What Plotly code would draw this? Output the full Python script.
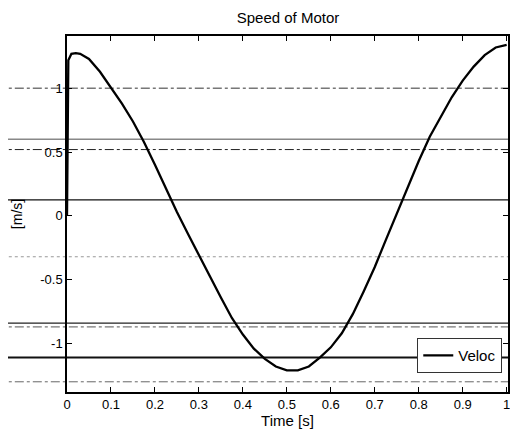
import plotly.graph_objects as go

# ---- data ----
time_s = [0, 0.003, 0.01, 0.02, 0.03, 0.05, 0.075, 0.10, 0.125, 0.15, 0.175, 0.20, 0.225,
          0.25, 0.275, 0.30, 0.325, 0.35, 0.375, 0.40, 0.425, 0.45, 0.475, 0.50, 0.525,
          0.55, 0.575, 0.60, 0.625, 0.65, 0.675, 0.70, 0.725, 0.75, 0.775, 0.80, 0.825,
          0.85, 0.875, 0.90, 0.925, 0.95, 0.975, 1.00]
veloc = [0, 1.22, 1.27, 1.275, 1.27, 1.23, 1.13, 1.01, 0.88, 0.74, 0.58, 0.40, 0.21,
         0.03, -0.14, -0.31, -0.48, -0.64, -0.80, -0.93, -1.04, -1.12, -1.18, -1.21, -1.21,
         -1.18, -1.11, -1.03, -0.92, -0.77, -0.59, -0.40, -0.19, 0.02, 0.23, 0.43, 0.62,
         0.78, 0.93, 1.06, 1.17, 1.26, 1.32, 1.34]
x_ticks = [0, 0.1, 0.2, 0.3, 0.4, 0.5, 0.6, 0.7, 0.8, 0.9, 1]
x_tick_labels = ["0", "0.1", "0.2", "0.3", "0.4", "0.5", "0.6", "0.7", "0.8", "0.9", "1"]
y_ticks = [-1, -0.5, 0, 0.5, 1]
y_tick_labels = ["-1", "-0.5", "0", "0.5", "1"]

# scan artefact lines (notebook paper) in y data units
paper_lines = [1.0, 0.60, 0.52, 0.125, -0.32, -0.84, -0.87, -1.11, -1.30]
paper_styles = [("#777", 1.5, "dashdot"), ("#888", 1.5, "solid"), ("#222", 1, "dashdot"),
                ("#111", 1.2, "solid"), ("#999", 1, "dot"), ("#222", 1.2, "solid"),
                ("#555", 1, "dashdot"), ("#111", 2, "solid"), ("#666", 1, "dashdot")]

font = "Liberation Sans, Arial, sans-serif"

fig = go.Figure()
fig.add_trace(go.Scatter(x=time_s, y=veloc, mode="lines", name="Veloc",
                         line=dict(color="black", width=2.3)))

shapes = []
for yv, (c, w, d) in zip(paper_lines, paper_styles):
    shapes.append(dict(type="line", xref="paper", yref="y", x0=-0.2, x1=1.05, y0=yv, y1=yv,
                       line=dict(color=c, width=w, dash=d), layer="below"))

fig.update_layout(
    width=510, height=431,
    margin=dict(l=57, r=8, t=28, b=47),
    paper_bgcolor="white", plot_bgcolor="rgba(0,0,0,0)",
    title=dict(text="Speed of Motor", x=0.549, xanchor="center", y=0.99, yanchor="top",
               pad=dict(t=0, b=0), font=dict(family=font, size=15, color="black")),
    font=dict(family=font, color="black"),
    shapes=shapes,
    showlegend=True,
    legend=dict(x=0.987, y=0.053, xanchor="right", yanchor="bottom",
                bgcolor="white", bordercolor="#333", borderwidth=1,
                font=dict(family=font, size=15, color="black"),
                tracegroupgap=0),
    xaxis=dict(range=[0, 1.003], tickvals=x_ticks, ticktext=x_tick_labels,
               showgrid=False, zeroline=False, showline=True, linecolor="black", linewidth=1.5,
               mirror="ticks", ticks="inside", ticklen=5, tickcolor="black",
               ticklabeloverflow="allow",
               tickfont=dict(family=font, size=13, color="black"),
               title=dict(text="Time [s]", font=dict(family=font, size=15, color="black"), standoff=4)),
    yaxis=dict(range=[-1.38, 1.41], tickvals=y_ticks, ticktext=y_tick_labels,
               showgrid=False, zeroline=False, showline=True, linecolor="black", linewidth=1.5,
               mirror="ticks", ticks="inside", ticklen=5, tickcolor="black",
               tickfont=dict(family=font, size=13, color="black"),
               title=dict(text="[m/s]", font=dict(family=font, size=14, color="black"), standoff=14)),
)

fig.write_html("out.html")
